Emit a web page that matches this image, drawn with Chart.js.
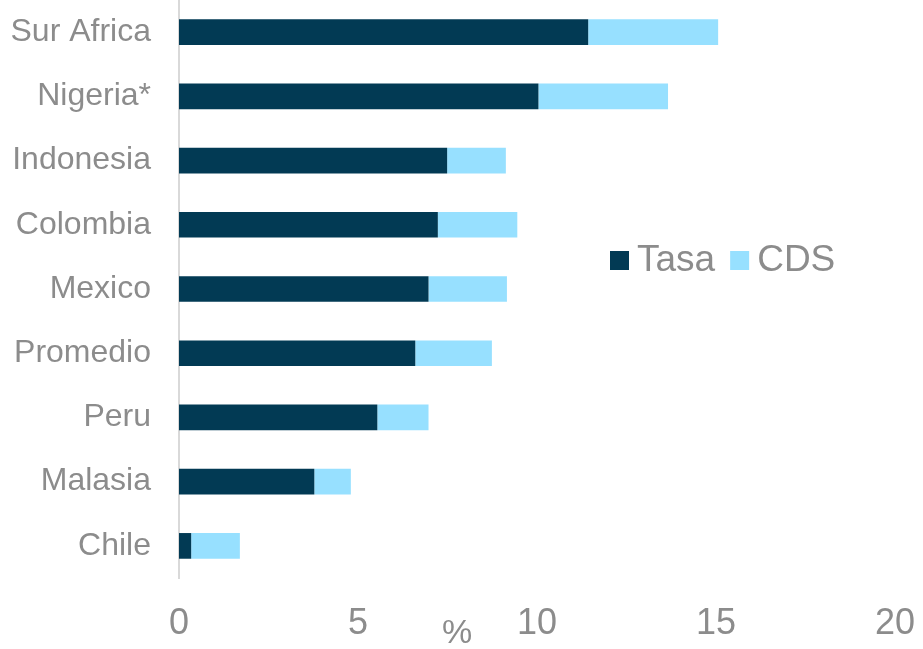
<!DOCTYPE html>
<html>
<head>
<meta charset="utf-8">
<script src="https://cdn.jsdelivr.net/npm/chart.js@4/dist/chart.umd.min.js"></script>
<style>
  html, body { margin: 0; padding: 0; background: #fff; }
  #wrap { width: 923px; height: 649px; position: relative; }
</style>
</head>
<body>
<div id="wrap"><canvas id="grafico"></canvas></div>
<script>
const paises = ['Sur Africa', 'Nigeria*', 'Indonesia', 'Colombia', 'Mexico', 'Promedio', 'Peru', 'Malasia', 'Chile'];
const tasa = [11.43, 10.04, 7.49, 7.23, 6.97, 6.60, 5.54, 3.78, 0.34];
const cds = [3.63, 3.62, 1.64, 2.22, 2.19, 2.14, 1.43, 1.02, 1.36];
const ticksX = [0, 5, 10, 15, 20];

const gris = '#8c8c8c';
const fuente = "'Liberation Sans', Arial, sans-serif";

// leyenda y etiqueta "%" dibujadas a mano
const extras = {
  id: 'extras',
  afterDraw(chart) {
    const ctx = chart.ctx;
    ctx.save();
    ctx.font = '37px ' + fuente;
    ctx.textBaseline = 'middle';
    ctx.textAlign = 'left';
    let x = 610;
    const y = 261;
    chart.data.datasets.forEach(ds => {
      ctx.fillStyle = ds.backgroundColor;
      ctx.fillRect(x, y - 10, 19, 19);
      ctx.fillStyle = gris;
      ctx.fillText(ds.label, x + 27, y);
      x += 27 + ctx.measureText(ds.label).width + 15;
    });
    ctx.font = '34px ' + fuente;
    ctx.textAlign = 'center';
    ctx.fillText('%', 457, 634);
    ctx.restore();
  }
};

new Chart(document.getElementById('grafico'), {
  type: 'bar',
  data: {
    labels: paises,
    datasets: [
      { label: 'Tasa', data: tasa, backgroundColor: '#023a54' },
      { label: 'CDS', data: cds, backgroundColor: '#97e0ff' }
    ]
  },
  options: {
    indexAxis: 'y',
    responsive: true,
    maintainAspectRatio: false,
    animation: false,
    layout: { padding: { left: 0, right: 28, top: 0, bottom: 0 } },
    datasets: { bar: { categoryPercentage: 0.4, barPercentage: 1 } },
    plugins: {
      legend: { display: false },
      tooltip: { enabled: false }
    },
    scales: {
      x: {
        stacked: true,
        min: 0,
        max: 20,
        afterBuildTicks: s => { s.ticks = ticksX.map(v => ({ value: v })); },
        afterFit: s => { s.height = 71; s.paddingLeft = 0; s.paddingRight = 0; },
        grid: { display: false },
        border: { display: false },
        ticks: { color: gris, font: { family: fuente, size: 36 }, padding: 16, maxRotation: 0 }
      },
      y: {
        stacked: true,
        afterFit: s => { s.width = 179; s.paddingTop = 0; s.paddingBottom = 0; },
        grid: { display: false },
        border: { display: true, color: '#d9d9d9', width: 2 },
        ticks: { color: gris, font: { family: fuente, size: 32 }, padding: 20 }
      }
    }
  },
  plugins: [extras]
});
</script>
</body>
</html>
